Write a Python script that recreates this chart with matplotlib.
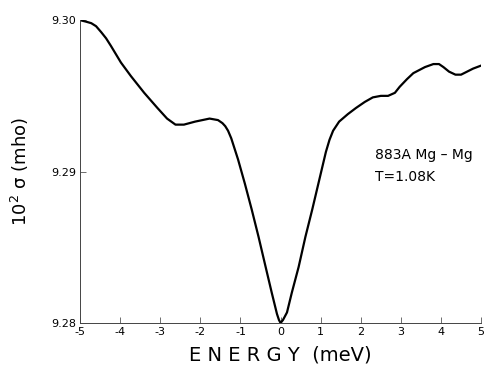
import matplotlib
matplotlib.use('Agg')
import matplotlib.pyplot as plt

plt.rcParams['font.family'] = ['DejaVu Sans']

# conductance vs bias energy
energy = [-5.0, -4.85, -4.72, -4.6, -4.47, -4.35, -4.23, -3.98, -3.73,
          -3.4, -3.07, -2.83, -2.62, -2.41, -2.13, -1.95, -1.77, -1.56,
          -1.45, -1.38, -1.31, -1.23, -1.06, -0.89, -0.72, -0.55, -0.39,
          -0.22, -0.09, -0.04, 0.0, 0.06, 0.16, 0.28, 0.45, 0.62, 0.79,
          0.96, 1.13, 1.22, 1.31, 1.46, 1.68, 1.88, 2.1, 2.30, 2.5, 2.68,
          2.85, 2.97, 3.15, 3.31, 3.6, 3.81, 3.95, 4.06, 4.2, 4.36, 4.5,
          4.65, 4.8, 5.0]
sigma = [9.3000, 9.2999, 9.2998, 9.2996, 9.2992, 9.2988, 9.2983, 9.2972,
         9.2963, 9.2952, 9.2942, 9.2935, 9.2931, 9.2931, 9.2933, 9.2934,
         9.2935, 9.2934, 9.2932, 9.2930, 9.2927, 9.2922, 9.2908, 9.2892,
         9.2875, 9.2857, 9.2839, 9.2820, 9.2806, 9.2802, 9.2800, 9.2802,
         9.2807, 9.2820, 9.2837, 9.2857, 9.2875, 9.2894, 9.2913, 9.2921,
         9.2927, 9.2933, 9.2938, 9.2942, 9.2946, 9.2949, 9.2950, 9.2950,
         9.2952, 9.2956, 9.2961, 9.2965, 9.2969, 9.2971, 9.2971, 9.2969,
         9.2966, 9.2964, 9.2964, 9.2966, 9.2968, 9.2970]

xticks = [-5, -4, -3, -2, -1, 0, 1, 2, 3, 4, 5]
yticks = [9.28, 9.29, 9.30]

fig = plt.figure(figsize=(4.85, 3.73), dpi=100)
ax = fig.add_axes([0.165, 0.134, 0.827, 0.812])
ax.plot(energy, sigma, color='black', lw=1.6, solid_joinstyle='round')

ax.set_xlim(-5, 5)
ax.set_ylim(9.28, 9.30)
ax.set_xticks(xticks)
ax.set_xticklabels([str(t) for t in xticks])
ax.set_yticks(yticks)
ax.set_yticklabels(['9.28', '9.29', '9.30'])
ax.tick_params(direction='in', length=4, width=0.6, labelsize=8,
               color='#555555', pad=3)

for s in ['top', 'right']:
    ax.spines[s].set_visible(False)
for s in ['left', 'bottom']:
    ax.spines[s].set_linewidth(0.7)
    ax.spines[s].set_color('#444444')

ax.set_xlabel('E N E R G Y  (meV)', fontsize=14, labelpad=6)
ax.set_ylabel('10$^2$ σ (mho)', fontsize=13, labelpad=14)

ax.text(0.735, 0.518, '883A Mg – Mg\nT=1.08K', transform=ax.transAxes,
        fontsize=10, linespacing=1.7, va='center', ha='left')

fig.savefig('out.png', dpi=100)
